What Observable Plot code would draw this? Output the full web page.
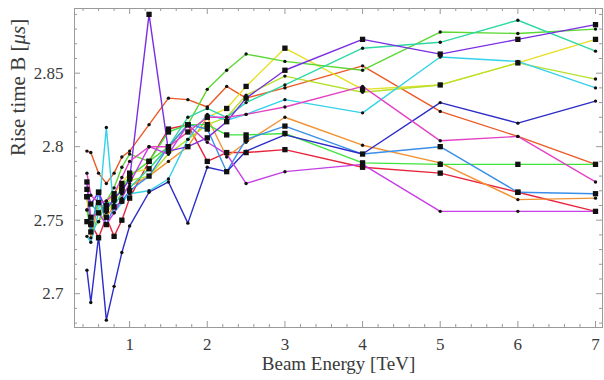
<!DOCTYPE html>
<html><head><meta charset="utf-8">
<script src="https://cdn.jsdelivr.net/npm/d3@7"></script>
<script src="https://cdn.jsdelivr.net/npm/@observablehq/plot@0.6"></script>
<style>html,body{margin:0;padding:0;background:#fff}</style>
</head><body><div id="chart"></div>
<script>
// ---- data ----
const energies = [0.45, 0.5, 0.6, 0.7, 0.8, 0.9, 1.0, 1.25, 1.5, 1.75, 2.0, 2.25, 2.5, 3, 4, 5, 6, 7];
const seriesNames = ["red","orangeRed","orange","yellow","yellowGreen","greenTop","greenFlat","teal","cyan","lightBlue","darkBlue","purple","violet","magenta"];
const red         = [2.766,2.748,2.738,2.752,2.739,2.750,2.765,2.790,2.812,2.815,2.790,2.796,2.796,2.798,2.786,2.782,2.769,2.756];
const orangeRed   = [2.797,2.796,2.782,2.775,2.782,2.793,2.797,2.815,2.833,2.832,2.827,2.841,2.833,2.840,2.855,2.824,2.807,2.788];
const orange      = [2.766,2.738,2.762,2.752,2.760,2.768,2.773,2.780,2.790,2.800,2.820,2.793,2.803,2.820,2.801,2.789,2.764,2.765];
const yellow      = [2.766,2.752,2.755,2.760,2.768,2.775,2.782,2.785,2.800,2.810,2.820,2.826,2.841,2.867,2.839,2.842,2.857,2.873];
const yellowGreen = [2.757,2.747,2.749,2.755,2.762,2.772,2.777,2.780,2.795,2.805,2.815,2.820,2.835,2.848,2.837,2.842,2.857,2.846];
const greenTop    = [2.757,2.742,2.749,2.763,2.772,2.786,2.795,2.790,2.800,2.815,2.839,2.852,2.863,2.858,2.852,2.878,2.877,2.880];
const greenFlat   = [2.749,2.747,2.762,2.757,2.764,2.772,2.780,2.790,2.810,2.815,2.815,2.808,2.808,2.809,2.789,2.788,2.788,2.788];
const teal        = [2.771,2.761,2.755,2.763,2.760,2.768,2.772,2.785,2.800,2.820,2.826,2.820,2.830,2.842,2.867,2.871,2.886,2.865];
const cyan        = [2.739,2.735,2.755,2.813,2.755,2.762,2.768,2.770,2.778,2.805,2.822,2.818,2.822,2.832,2.823,2.861,2.858,2.840];
const lightBlue   = [2.776,2.742,2.769,2.747,2.759,2.763,2.770,2.780,2.800,2.815,2.812,2.783,2.805,2.814,2.795,2.800,2.769,2.768];
const darkBlue    = [2.716,2.694,2.739,2.682,2.705,2.728,2.746,2.769,2.776,2.748,2.786,2.783,2.797,2.808,2.795,2.830,2.816,2.831];
const purple      = [2.771,2.761,2.769,2.757,2.765,2.770,2.778,2.890,2.797,2.800,2.806,2.817,2.833,2.852,2.873,2.863,2.873,2.883];
const violet      = [2.776,2.752,2.755,2.747,2.755,2.765,2.775,2.800,2.795,2.815,2.803,2.795,2.775,2.783,2.788,2.756,2.756,2.756];
const magenta     = [2.782,2.767,2.762,2.763,2.768,2.779,2.790,2.800,2.800,2.810,2.820,2.820,2.822,2.827,2.841,2.804,2.807,2.776];
const xTickValues = [1, 2, 3, 4, 5, 6, 7];
const yTickValues = [2.7, 2.75, 2.8, 2.85];
const yTickLabels = ["2.7", "2.75", "2.8", "2.85"];
const xTitle = "Beam Energy [TeV]";
const yTitle = "Rise time B [μs]";

// ---- styles ----
const seriesColors = ["#e8243c","#ec5a26","#f39232","#e6df24","#b4e22c","#5cd834","#3ee43c","#2fd8a4","#34d2ea","#3a8ee8","#2c2cc8","#7a2ee2","#c63ee4","#e442c4"];
const bigMarkers = new Set(["purple","yellow","lightBlue","red","greenFlat"]);

const valuesBy = {red, orangeRed, orange, yellow, yellowGreen, greenTop, greenFlat, teal, cyan, lightBlue, darkBlue, purple, violet, magenta};
const rows = seriesNames.flatMap(s => valuesBy[s].map((v, i) => ({series: s, x: energies[i], y: v})));

const W = 604, H = 380, mL = 74, mR = 2, mT = 8, mB = 53;
const innerH = H - mT - mB, innerW = W - mL - mR;
const xMinor = d3.range(4, 71, 2).map(d => d / 10).filter(d => !xTickValues.includes(d));
const yMinor = d3.range(268, 290).map(d => d / 100).filter(d => !yTickValues.some(t => Math.abs(t - d) < 1e-9));
const tickColor = "#9a9a9a";

const chart = Plot.plot({
  width: W, height: H,
  marginLeft: mL, marginRight: mR, marginTop: mT, marginBottom: mB,
  style: {fontFamily: "'Liberation Serif', 'Times New Roman', serif", fontSize: "17px", color: "#3a3a3a", background: "#fff"},
  x: {domain: [0.29, 7.09], label: null},
  y: {domain: [2.677, 2.894], label: null},
  color: {domain: seriesNames, range: seriesColors},
  marks: [
    // frame ticks (inward)
    Plot.ruleX(xTickValues, {x: d => d, insetTop: innerH - 6, stroke: tickColor}),
    Plot.ruleX(xMinor, {x: d => d, insetTop: innerH - 3, stroke: tickColor}),
    Plot.ruleX(xTickValues, {x: d => d, insetBottom: innerH - 6, stroke: tickColor}),
    Plot.ruleX(xMinor, {x: d => d, insetBottom: innerH - 3, stroke: tickColor}),
    Plot.ruleY(yTickValues, {y: d => d, insetRight: innerW - 6, stroke: tickColor}),
    Plot.ruleY(yMinor, {y: d => d, insetRight: innerW - 3, stroke: tickColor}),
    Plot.ruleY(yTickValues, {y: d => d, insetLeft: innerW - 6, stroke: tickColor}),
    Plot.ruleY(yMinor, {y: d => d, insetLeft: innerW - 3, stroke: tickColor}),
    Plot.frame({stroke: tickColor}),
    Plot.axisX({ticks: xTickValues, tickFormat: d => String(d), tickSize: 0, tickPadding: 10, fontSize: 17}),
    Plot.axisY({ticks: yTickValues, tickFormat: (d, i) => yTickLabels[i], tickSize: 0, tickPadding: 11, fontSize: 17}),
    Plot.line(rows, {x: "x", y: "y", z: "series", stroke: "series", strokeWidth: 1.4}),
    Plot.dot(rows.filter(d => !bigMarkers.has(d.series)), {x: "x", y: "y", r: 1.7, fill: "#111", stroke: null}),
    Plot.dot(rows.filter(d => bigMarkers.has(d.series)), {x: "x", y: "y", r: 3, symbol: "square", fill: "#111", stroke: null}),
    Plot.text([xTitle], {text: d => d, frameAnchor: "bottom", dy: 42, fontSize: 19, fill: "#3a3a3a"}),
    Plot.text([yTitle], {text: d => d, frameAnchor: "left", dx: -56, dy: -12, rotate: -90, fontSize: 21, fill: "#3a3a3a"})
  ]
});
document.getElementById("chart").appendChild(chart);

// italic mu in the y title
d3.select(chart).selectAll("text").filter(function () { return this.textContent === yTitle; }).each(function () {
  const t = d3.select(this);
  t.text(null);
  t.append("tspan").text("Rise time B [");
  t.append("tspan").attr("font-style", "italic").text("μs");
  t.append("tspan").text("]");
});
</script>
</body></html>
